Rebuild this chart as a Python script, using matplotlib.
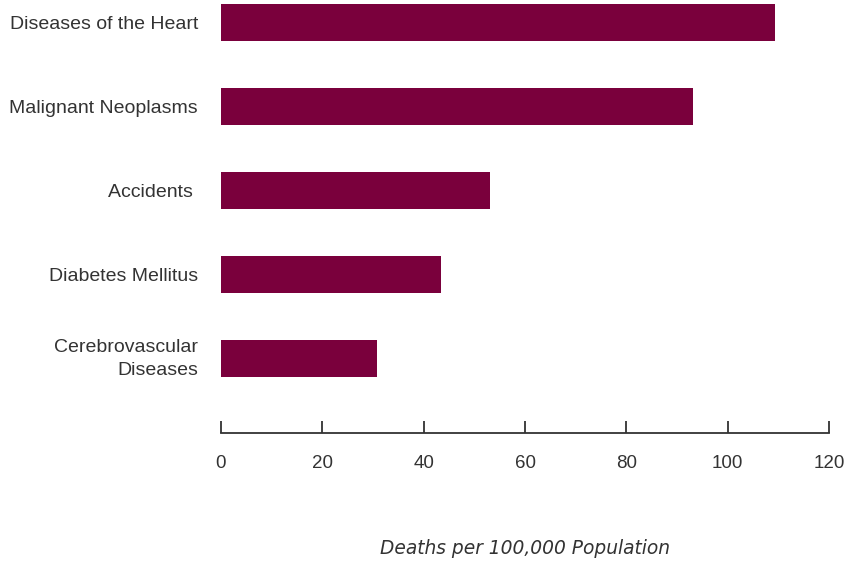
import matplotlib
matplotlib.use("Agg")
import matplotlib.pyplot as plt
import matplotlib.transforms as mtransforms

causes = ["Diseases of the Heart", "Malignant Neoplasms", "Accidents ",
          "Diabetes Mellitus", "Cerebrovascular\nDiseases"]
deaths = [109.3, 93.1, 53.1, 43.4, 30.8]
xticks = [0, 20, 40, 60, 80, 100, 120]

bar_col = "#7a003c"
text_col = "#333333"

plt.rcParams["font.family"] = ["Liberation Sans", "DejaVu Sans"]

fig = plt.figure(figsize=(8.54, 5.65), dpi=100)
ax = fig.add_axes([221 / 854, 132 / 565, 608 / 854, 433 / 565])

ax.barh(range(len(causes)), deaths, height=0.44, color=bar_col)

ax.set_xlim(0, 120)
ax.set_ylim(4.887, -0.268)
ax.set_xticks(xticks)
ax.set_xticklabels([str(t) for t in xticks])
ax.set_yticks(range(len(causes)))
ax.set_yticklabels(causes, ha="right", linespacing=1.45)

for s in ["top", "right", "left"]:
    ax.spines[s].set_visible(False)
ax.spines["bottom"].set_color(text_col)
ax.spines["bottom"].set_linewidth(1.3)

ax.tick_params(axis="x", direction="in", length=8.6, width=1.3,
               color=text_col, pad=16, labelsize=13.5, labelcolor=text_col)
ax.tick_params(axis="y", length=0, pad=16.5, labelsize=14,
               labelcolor=text_col)

# two-line label sits a little higher in the original
lbl = ax.get_yticklabels()[-1]
lbl.set_transform(lbl.get_transform() +
                  mtransforms.ScaledTranslation(0, 4.5 / 100, fig.dpi_scale_trans))

fig.text(525 / 854, 1 - 548 / 565, "Deaths per 100,000 Population",
         ha="center", va="center", fontsize=13.4, style="italic",
         color=text_col, family="DejaVu Sans")

fig.savefig("out.png", dpi=100)
